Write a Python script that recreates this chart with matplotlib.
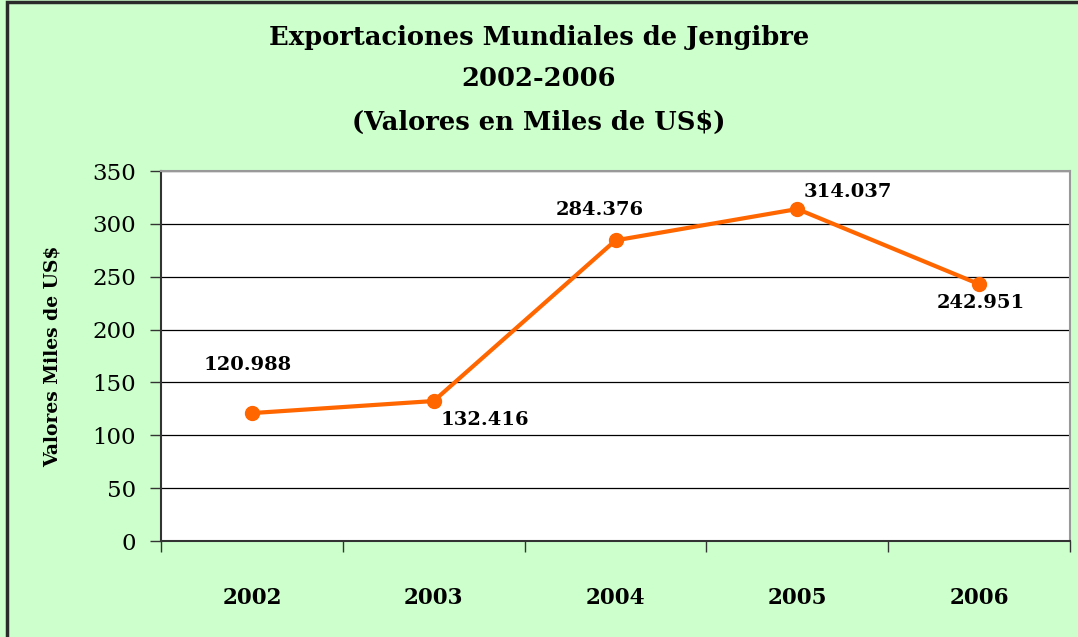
import matplotlib.pyplot as plt
import matplotlib.patches as patches

# Data
years = ["2002", "2003", "2004", "2005", "2006"]
values = [120.988, 132.416, 284.376, 314.037, 242.951]
labels = ["120.988", "132.416", "284.376", "314.037", "242.951"]
yticks = [0, 50, 100, 150, 200, 250, 300, 350]

# label offsets in pixels (dx, dy) relative to each point
offsets_px = [(-4, 48), (51, -19), (-16, 30), (51, 17), (2, -19)]

plt.rcParams['font.family'] = ['DejaVu Serif']

fig = plt.figure(figsize=(10.78, 6.37), dpi=100)
fig.patch.set_facecolor("#CCFFCC")

# outer frame (left and top edges visible)
fig.patches.append(patches.Rectangle((7 / 1078, -0.05), 1.2, 1.05 - 2 / 637,
                                     transform=fig.transFigure, fill=False,
                                     edgecolor="#2a2a2a", linewidth=2.5))

ax = fig.add_axes([161 / 1078, 96 / 637, 909 / 1078, 370 / 637])
ax.set_facecolor("white")

x = list(range(len(years)))
ax.plot(x, values, color="#FF6600", linewidth=3, marker="o", markersize=10, zorder=3)

for xi, v, lab, (dx, dy) in zip(x, values, labels, offsets_px):
    ax.annotate(lab, (xi, v), xytext=(dx * 0.72, dy * 0.72), textcoords="offset points",
                ha="center", va="center", fontsize=14, fontweight="bold")

ax.set_xlim(-0.5, len(years) - 0.5)
ax.set_ylim(0, 350)
ax.set_yticks(yticks)
ax.set_yticklabels([str(t) for t in yticks], fontsize=16.5)
ax.yaxis.grid(True, color="black", linewidth=0.9)
ax.set_axisbelow(True)

ax.set_xticks(x)
ax.set_xticklabels(years, fontsize=15.5, fontweight="bold")
ax.tick_params(axis="x", which="major", length=0, pad=33)
ax.set_xticks([i - 0.5 for i in range(len(years) + 1)], minor=True)
ax.tick_params(axis="x", which="minor", length=8, width=1, color="#333333")
ax.tick_params(axis="y", length=8, width=1, color="#333333", pad=10)

for side in ["left", "bottom"]:
    ax.spines[side].set_color("#333333")
    ax.spines[side].set_linewidth(1.5)
for side in ["top", "right"]:
    ax.spines[side].set_color("#999999")
    ax.spines[side].set_linewidth(1.5)

ax.set_ylabel("Valores Miles de US$", fontsize=13.5, fontweight="bold", labelpad=22)

fig.text(0.5, 1 - 37 / 637, "Exportaciones Mundiales de Jengibre", ha="center", va="center",
         fontsize=18.5, fontweight="bold")
fig.text(0.5, 1 - 79 / 637, "2002-2006", ha="center", va="center",
         fontsize=18.5, fontweight="bold")
fig.text(0.5, 1 - 122 / 637, "(Valores en Miles de US$)", ha="center", va="center",
         fontsize=18.5, fontweight="bold")

fig.savefig("out.png", dpi=100, facecolor=fig.get_facecolor())
